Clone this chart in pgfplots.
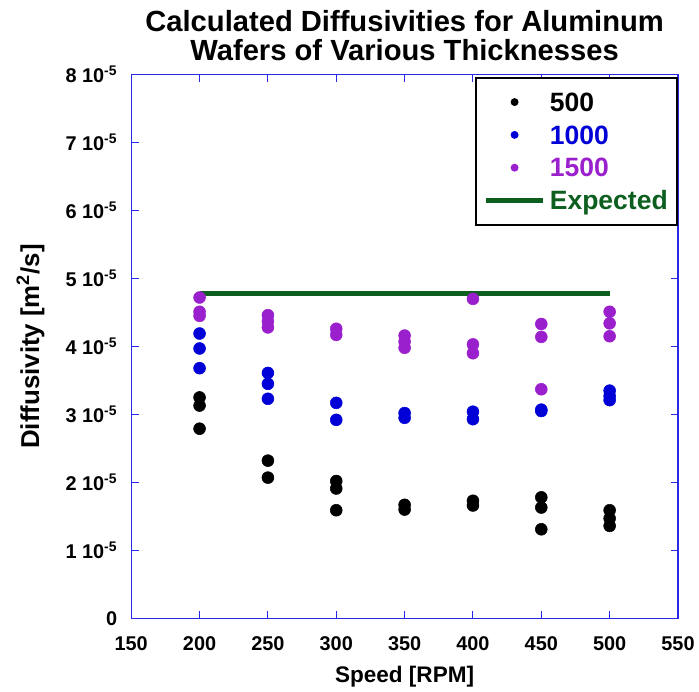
\documentclass[border=0pt]{standalone}
\usepackage{pgfplots}
\pgfplotsset{compat=1.18}
\usepackage{fontspec}
\setmainfont{Liberation Sans}
\definecolor{ablue}{RGB}{0,0,215}
\definecolor{apurple}{RGB}{155,32,205}
\definecolor{agreen}{RGB}{12,95,30}
\definecolor{axcol}{RGB}{40,40,230}
\begin{document}
\begin{tikzpicture}
\begin{axis}[name=ax, scale only axis, width=412.5pt, height=410.25pt,
  xmin=150, xmax=550, ymin=0, ymax=8e-5,
  xtick={150,200,250,300,350,400,450,500,550},
  xticklabels={\textbf{150},\textbf{200},\textbf{250},\textbf{300},\textbf{350},\textbf{400},\textbf{450},\textbf{500},\textbf{550}},
  ytick={0,1e-5,2e-5,3e-5,4e-5,5e-5,6e-5,7e-5,8e-5},
  yticklabels={\textbf{0},\textbf{1 10\textsuperscript{-5}},\textbf{2 10\textsuperscript{-5}},\textbf{3 10\textsuperscript{-5}},\textbf{4 10\textsuperscript{-5}},\textbf{5 10\textsuperscript{-5}},\textbf{6 10\textsuperscript{-5}},\textbf{7 10\textsuperscript{-5}},\textbf{8 10\textsuperscript{-5}}},
  scaled y ticks=false, scaled x ticks=false,
  tick align=inside, major tick length=5.5pt,
  axis line style={axcol, line width=0.8pt},
  every tick/.style={axcol, line width=0.8pt},
  tick label style={font=\fontsize{15}{18}\selectfont},
  xticklabel style={yshift=-10pt},
  yticklabel style={xshift=-7pt},
  title={\textbf{Calculated Diffusivities for Aluminum}\\\textbf{Wafers of Various Thicknesses}},
  title style={align=center, font=\fontsize{22}{21.5}\selectfont, yshift=1pt},
  xlabel={\textbf{Speed [RPM]}},
  ylabel={\textbf{Diffusivity [m\textsuperscript{2}/s]}},
  xlabel style={font=\fontsize{17}{20}\selectfont, yshift=-5pt},
  ylabel style={font=\fontsize{19.5}{22}\selectfont},
  ylabel shift=9pt,
  legend style={at={(1.0,0.9963)}, anchor=north east, draw=black, line width=1.5pt,
    font=\fontsize{20}{22}\selectfont, inner xsep=6pt, inner ysep=8.5pt,
    row sep=4.75pt, column sep=2pt,
    nodes={inner sep=1pt, text height=16pt, text depth=2pt}},
  legend cell align=left,
]
\addplot[only marks, mark=*, mark size=4.5pt, color=black,
  legend image code/.code={\path[draw=none] (0pt,0pt) -- (43pt,0pt); \fill[black, draw=none] (21.4pt,0pt) circle (3pt);}]
  coordinates {
  (200,3.25e-5) (200,3.13e-5) (200,2.79e-5)
  (250,2.32e-5) (250,2.07e-5)
  (300,2.02e-5) (300,1.91e-5) (300,1.59e-5)
  (350,1.67e-5) (350,1.60e-5)
  (400,1.73e-5) (400,1.66e-5)
  (450,1.78e-5) (450,1.63e-5) (450,1.31e-5)
  (500,1.59e-5) (500,1.47e-5) (500,1.36e-5)
  };
\addlegendentry{\textcolor{black}{\textbf{500}}}
\addplot[only marks, mark=*, mark size=4.5pt, color=ablue,
  legend image code/.code={\path[draw=none] (0pt,0pt) -- (43pt,0pt); \fill[ablue, draw=none] (21.4pt,0pt) circle (3pt);}]
  coordinates {
  (200,4.19e-5) (200,3.97e-5) (200,3.68e-5)
  (250,3.61e-5) (250,3.45e-5) (250,3.23e-5)
  (300,3.17e-5) (300,2.92e-5)
  (350,3.02e-5) (350,2.95e-5)
  (400,3.04e-5) (400,2.93e-5)
  (450,3.07e-5) (450,3.05e-5)
  (500,3.35e-5) (500,3.27e-5) (500,3.21e-5)
  };
\addlegendentry{\textcolor{ablue}{\textbf{1000}}}
\addplot[only marks, mark=*, mark size=4.5pt, color=apurple,
  legend image code/.code={\path[draw=none] (0pt,0pt) -- (43pt,0pt); \fill[apurple, draw=none] (21.4pt,0pt) circle (3pt);}]
  coordinates {
  (200,4.72e-5) (200,4.51e-5) (200,4.45e-5)
  (250,4.46e-5) (250,4.37e-5) (250,4.28e-5)
  (300,4.26e-5) (300,4.17e-5)
  (350,4.16e-5) (350,4.07e-5) (350,3.98e-5)
  (400,4.70e-5) (400,4.03e-5) (400,3.90e-5)
  (450,4.33e-5) (450,4.14e-5) (450,3.37e-5)
  (500,4.51e-5) (500,4.34e-5) (500,4.15e-5)
  };
\addlegendentry{\textcolor{apurple}{\textbf{1500}}}
\addplot[agreen, line width=4pt, no marks,
  legend image code/.code={\draw[agreen, line width=4pt] (0pt,0pt) -- (43pt,0pt);}]
  coordinates {(200,4.78e-5) (500,4.78e-5)};
\addlegendentry{\textcolor{agreen}{\textbf{Expected}}}
\end{axis}
\path ([shift={(-99pt,-51pt)}]ax.south west) rectangle ([shift={(12.75pt,56.25pt)}]ax.north east);
\end{tikzpicture}
\end{document}
